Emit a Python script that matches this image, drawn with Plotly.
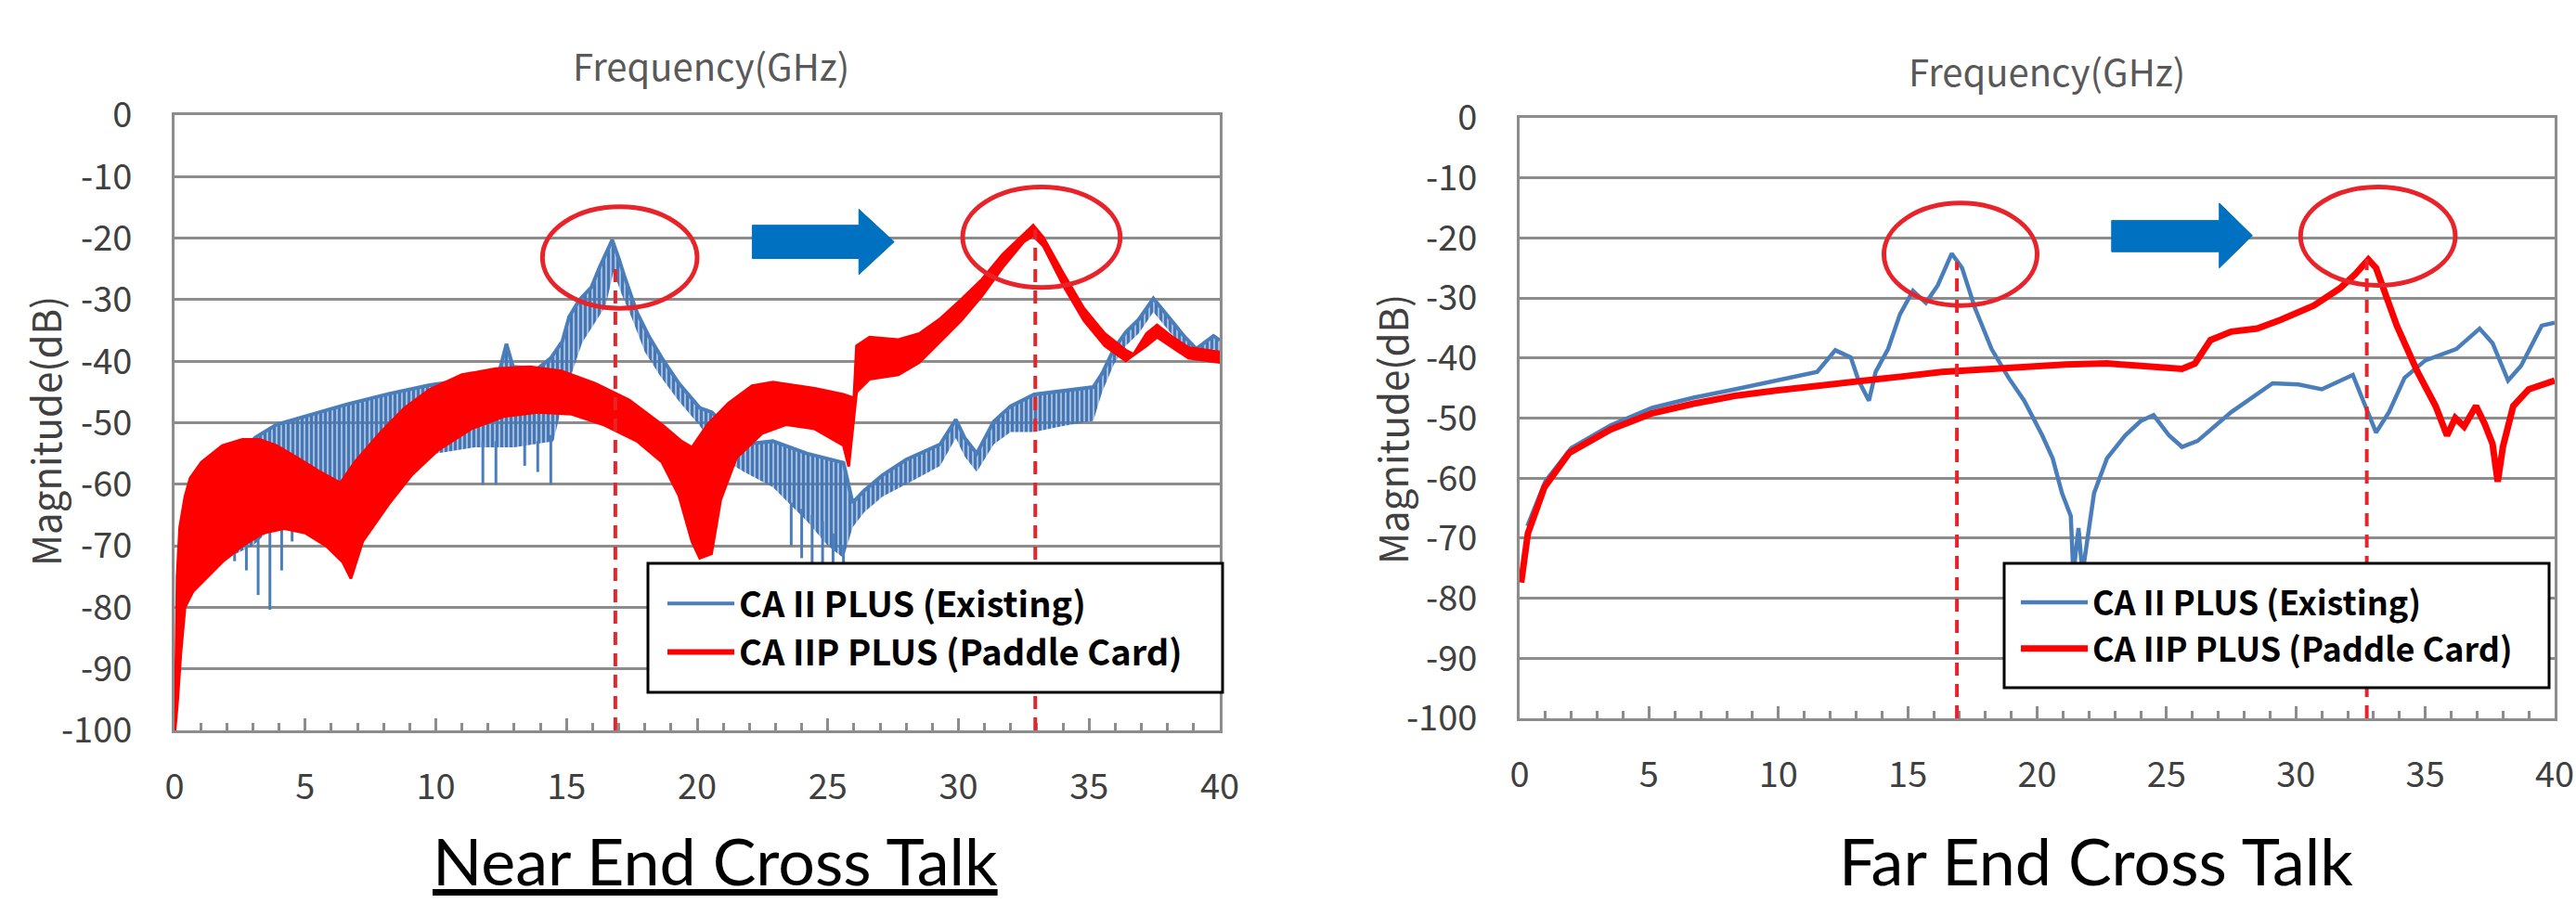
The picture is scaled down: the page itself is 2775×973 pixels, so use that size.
import plotly.graph_objects as go

W, H = 2775, 973

# ---------------- NEAR END CROSS TALK (left panel) ----------------
# Paddle card (red): ripple band, upper and lower envelopes
next_red_up_x = [0.02, 0.1, 0.2, 0.4, 0.6, 1.03, 1.83, 2.6, 3.25, 3.9, 4.7, 5.5, 6.35, 6.9, 7.86, 8.8, 9.76, 11.0,
                 12.3, 13.6, 14.8, 16.1, 17.4, 18.65, 19.4, 19.8, 20.4, 21.2, 22.1, 22.9, 24.5, 25.6, 26.0, 26.1,
                 26.6, 27.7, 28.5, 29.3, 30.1, 30.9, 31.7, 32.5, 32.86, 33.25, 34.05, 34.8, 35.6, 36.4, 36.7, 37.2,
                 37.6, 38.2, 38.8, 40.0]
next_red_up_y = [-100, -75, -67, -62, -59, -56.4, -53.7, -52.7, -52.7, -53.7, -55.7, -57.8, -59.8, -56.4, -51.7,
                 -47.6, -44.6, -42.2, -41.2, -40.9, -41.6, -43.6, -46.3, -50.3, -53, -54, -50.3, -46.8, -44, -43.4,
                 -44.4, -45.4, -46, -37.5, -36.1, -36.5, -35.5, -33.1, -30, -26.7, -22.6, -19.3, -17.9, -19.9, -26,
                 -31.4, -35.5, -38.2, -38.9, -35.5, -34.1, -36.1, -37.8, -38.5]
next_red_lo_x = [0.02, 0.12, 0.24, 0.4, 0.71, 1.19, 1.83, 2.6, 3.4, 4.2, 5.0, 5.8, 6.43, 6.75, 7.2, 8.2, 9.1, 10.1,
                 11.35, 12.6, 13.9, 15.2, 16.4, 17.7, 18.65, 19.3, 19.8, 20.1, 20.55, 20.9, 21.5, 22.5, 23.4, 24.5,
                 25.6, 25.8, 26.1, 26.6, 27.7, 28.5, 29.3, 30.1, 30.9, 31.7, 32.5, 32.86, 33.25, 34.05, 34.8, 35.6,
                 36.4, 37.2, 37.6, 38.2, 38.8, 40.0]
next_red_lo_y = [-100, -95, -87.5, -80, -77.4, -75.3, -72.6, -70, -67.9, -67.2, -67.9, -70, -72.6, -75.3, -69.3,
                 -63.2, -58.4, -54.4, -51, -49, -48.3, -48.6, -50.3, -53, -56.4, -61.8, -69.3, -72, -71.3, -62.5,
                 -55.7, -51.7, -50.3, -51, -53.7, -57.1, -45, -42.9, -42.2, -40.2, -36.8, -33.4, -29.4, -24.7, -20.6,
                 -19.6, -21.3, -28, -33.4, -37.5, -39.9, -37.5, -36.1, -37.8, -39.5, -40.2]

# Existing (blue): ripple band, upper and lower envelopes
next_blue_up_x = [0.3, 1.0, 2.0, 3.1, 3.9, 5.0, 6.6, 8.2, 9.76, 11.35, 12.46, 12.7, 12.95, 13.9, 14.4, 14.84, 15.1,
                  15.5, 15.95, 16.27, 16.75, 17.0, 17.2, 17.7, 18.17, 18.65, 19.3, 20.1, 20.56, 21.8, 22.9, 24.2,
                  25.6, 25.95, 26.4, 27.1, 28.0, 29.3, 29.9, 30.24, 30.7, 31.35, 32.0, 32.9, 34.05, 35.16, 35.5,
                  35.95, 36.4, 36.9, 37.46, 38.0, 38.65, 39.1, 39.76, 40.0]
next_blue_up_y = [-72, -64, -57, -52.4, -50.3, -49, -47, -45.3, -43.9, -42.9, -41.2, -37.2, -40.9, -41.2, -39.5,
                  -36.8, -32.8, -30, -28, -24.7, -20.3, -23.3, -26, -32.1, -36.1, -39.5, -43.6, -47.6, -48.3, -53.5,
                  -53, -55, -56.5, -63, -61, -58.5, -56, -53.5, -49.5, -52.5, -55, -49.8, -47.3, -45.4, -44.8,
                  -44.2, -42, -38, -35.3, -33.2, -29.8, -32.6, -36, -38, -35.9, -36.6]
next_blue_lo_x = [0.3, 1.0, 2.0, 3.0, 4.0, 4.7, 5.5, 7.0, 8.5, 10.0, 11.5, 13.0, 14.5, 14.9, 15.2, 15.6, 16.2, 16.5,
                  16.8, 17.1, 17.5, 18.0, 18.6, 19.3, 20.1, 21.0, 21.8, 22.9, 24.2, 25.0, 25.6, 25.95, 26.4, 27.1,
                  28.0, 29.3, 29.9, 30.24, 30.7, 31.35, 32.0, 32.9, 34.05, 35.16, 35.5, 35.95, 36.4, 36.9, 37.46,
                  38.0, 38.65, 39.1, 39.76, 40.0]
next_blue_lo_y = [-80, -74, -72, -70, -66, -62, -60, -60, -58, -55, -54, -54, -53, -46, -42, -37, -33, -31, -25.5,
                  -29, -33, -38.5, -42.5, -46.5, -50.5, -56, -58, -60.5, -66, -70, -72, -67, -64.5, -62, -60, -57,
                  -52.5, -55.5, -58, -53.5, -51.5, -51.5, -50.5, -49.7, -45, -40.5, -37.5, -35.5, -32, -34.8, -38,
                  -40, -38, -38.6]
# deeper single spikes of the blue comb
next_spike_x = [2.3, 2.75, 3.2, 3.65, 4.1, 4.5, 11.8, 12.3, 13.4, 13.9, 14.4, 23.6, 24.0, 24.4, 24.8, 25.2, 25.6]
next_spike_top = [-70, -69, -68, -67.5, -67, -66, -53, -53, -53, -53, -52, -63, -64, -65, -66, -68, -70]
next_spike_bot = [-72.5, -74, -78, -80.4, -74, -69.3, -60, -60, -57, -58, -60, -70, -72, -76, -76, -76, -76]

# ---------------- FAR END CROSS TALK (right panel) ----------------
fext_red_x = [0.06, 0.32, 0.96, 1.92, 3.52, 5.12, 6.72, 8.32, 9.92, 11.52, 13.12, 14.72, 16.32, 17.92, 19.52, 21.1,
              22.7, 24.3, 25.6, 26.1, 26.7, 27.5, 28.5, 29.4, 30.7, 31.7, 32.3, 32.8, 33.1, 33.9, 34.7, 35.4, 35.84,
              36.16, 36.5, 36.96, 37.3, 37.6, 37.8, 38.0, 38.4, 39.0, 40.0]
fext_red_y = [-77.4, -69.2, -61.5, -55.8, -51.9, -49.2, -47.6, -46.3, -45.4, -44.7, -43.75, -43.1, -42.3, -41.8,
              -41.3, -41.06, -40.9, -41.3, -41.8, -40.9, -37, -35.6, -35.1, -33.65, -31.25, -28.4, -26, -23.6, -25,
              -34.6, -42.3, -48, -52.9, -50, -51.4, -48, -51, -54.3, -60.6, -54.8, -48, -45.2, -43.75]
fext_blue_x = [0.3, 1.0, 2.0, 3.52, 5.12, 6.72, 8.32, 9.92, 11.5, 12.2, 12.8, 13.1, 13.5, 13.76, 14.24, 14.7, 15.2,
               15.7, 16.16, 16.7, 17.1, 17.6, 18.24, 18.9, 19.5, 20.2, 20.6, 20.96, 21.3, 21.4, 21.6, 21.75, 22.0,
               22.2, 22.7, 23.4, 24.0, 24.5, 25.1, 25.6, 26.2, 27.5, 29.1, 30.1, 31.0, 32.2, 32.6, 33.1, 33.6, 34.2,
               35.0, 36.2, 37.1, 37.6, 38.2, 38.7, 39.5, 40.0]
fext_blue_y = [-68, -60.5, -55, -51.2, -48.3, -46.6, -45.2, -43.75, -42.3, -38.7, -39.9, -43.75, -47.1, -42.3,
               -38.5, -32.7, -28.8, -30.8, -27.9, -22.6, -25, -31.7, -38.5, -43.3, -47.1, -52.9, -56.7, -62.5, -66.3,
               -76, -68.3, -76, -68, -62.5, -56.7, -52.9, -50.5, -49.5, -52.9, -54.8, -53.8, -49, -44.2, -44.4,
               -45.2, -42.8, -47.1, -52.4, -49, -43.3, -40.4, -38.5, -35.1, -37.5, -43.75, -41.3, -34.6, -34.1]

# ---------------- annotations (data units) ----------------
series_names = ["CA II PLUS (Existing)", "CA IIP PLUS (Paddle Card)"]
next_peak_x = [16.87, 32.94]
next_peak_top = [-24.7, -18.6]
fext_peak_x = [16.9, 32.74]
fext_peak_top = [-24.0, -23.5]
# ellipses: x0, x1, y_top, y_bottom
next_ellipses = [[14.08, 20.0, -14.9, -31.4], [30.16, 36.19, -11.7, -28.0]]
fext_ellipses = [[14.08, 20.0, -14.2, -31.25], [30.18, 36.16, -11.5, -27.9]]
# block arrow: tail x, head start x, tip x, shaft top, shaft bottom, head top, head bottom
next_arrow = [22.11, 26.19, 27.54, -17.9, -23.3, -15.3, -25.9]
fext_arrow = [22.88, 27.04, 28.32, -17.1, -22.3, -14.2, -25.0]

x_tick_vals = [0, 5, 10, 15, 20, 25, 30, 35, 40]
x_tick_text = ["0", "5", "10", "15", "20", "25", "30", "35", "40"]
y_tick_vals = [0, -10, -20, -30, -40, -50, -60, -70, -80, -90, -100]
y_tick_text = ["0", "-10", "-20", "-30", "-40", "-50", "-60", "-70", "-80", "-90", "-100"]

BLUE = "#4a7ebb"
RED = "#ff0000"
MARK_RED = "#e8242a"
ARROW_BLUE = "#0070c0"
GRID = "#8c8c8c"
TICKFONT = "Noto Sans CJK KR"

fig = go.Figure()

# --- left panel traces ---
fig.add_trace(go.Scatter(
    x=next_blue_up_x + next_blue_lo_x[::-1], y=next_blue_up_y + next_blue_lo_y[::-1],
    fill="toself", mode="none", fillcolor="rgba(0,0,0,0)",
    fillpattern=dict(shape="|", size=5, solidity=0.8, fgcolor="#4576b5", bgcolor="rgba(0,0,0,0)"),
    showlegend=False, hoverinfo="skip", xaxis="x", yaxis="y"))
sx, sy = [], []
for xv, t, b in zip(next_spike_x, next_spike_top, next_spike_bot):
    sx += [xv, xv, None]
    sy += [t, b, None]
fig.add_trace(go.Scatter(x=sx, y=sy, mode="lines", line=dict(color=BLUE, width=3),
                         showlegend=False, hoverinfo="skip", xaxis="x", yaxis="y"))
fig.add_trace(go.Scatter(x=next_blue_up_x, y=next_blue_up_y, mode="lines", line=dict(color=BLUE, width=4),
                         name=series_names[0], legend="legend", xaxis="x", yaxis="y"))
fig.add_trace(go.Scatter(
    x=next_red_up_x + next_red_lo_x[::-1], y=next_red_up_y + next_red_lo_y[::-1],
    fill="toself", mode="lines", fillcolor=RED, line=dict(color=RED, width=3),
    showlegend=False, hoverinfo="skip", xaxis="x", yaxis="y"))
# red legend entry drawn as a line sample
fig.add_trace(go.Scatter(x=[None], y=[None], mode="lines", line=dict(color=RED, width=6),
                         name=series_names[1], legend="legend", xaxis="x", yaxis="y"))

# --- right panel traces ---
fig.add_trace(go.Scatter(x=fext_blue_x, y=fext_blue_y, mode="lines", line=dict(color=BLUE, width=4.5),
                         name=series_names[0], legend="legend2", xaxis="x2", yaxis="y2"))
fig.add_trace(go.Scatter(x=fext_red_x, y=fext_red_y, mode="lines", line=dict(color=RED, width=7),
                         name=series_names[1], legend="legend2", xaxis="x2", yaxis="y2"))

# --- shapes ---
shapes = []
def add_marks(xref, yref, peaks_x, peaks_top, ellipses, arrow):
    for px, pt in zip(peaks_x, peaks_top):
        shapes.append(dict(type="line", xref=xref, yref=yref, x0=px, x1=px, y0=-100, y1=pt,
                           line=dict(color=MARK_RED, width=4, dash="14px,9px")))
    for e in ellipses:
        shapes.append(dict(type="circle", xref=xref, yref=yref, x0=e[0], x1=e[1], y0=e[2], y1=e[3],
                           line=dict(color=MARK_RED, width=5)))
    t, hs, tip, st, sb, ht, hb = arrow
    mid = (ht + hb) / 2
    path = (f"M{t},{st} L{hs},{st} L{hs},{ht} L{tip},{mid} L{hs},{hb} L{hs},{sb} L{t},{sb} Z")
    shapes.append(dict(type="path", xref=xref, yref=yref, path=path, fillcolor=ARROW_BLUE,
                       line=dict(color=ARROW_BLUE, width=1)))

add_marks("x", "y", next_peak_x, next_peak_top, next_ellipses, next_arrow)
add_marks("x2", "y2", fext_peak_x, fext_peak_top, fext_ellipses, fext_arrow)

# legend frames (white boxes with black border, legend entries drawn on top)
for (bx0, bx1, by0, by1) in [(698, 1317, 607, 746), (2159, 2746, 607, 741)]:
    shapes.append(dict(type="rect", xref="paper", yref="paper", x0=bx0 / W, x1=bx1 / W,
                       y0=1 - by1 / H, y1=1 - by0 / H, fillcolor="white",
                       line=dict(color="black", width=3), layer="above"))

def xaxis(domain, anchor):
    return dict(domain=domain, anchor=anchor, range=[0, 40], tickmode="array", tickvals=x_tick_vals,
                ticktext=x_tick_text, ticks="inside", ticklen=13, tickwidth=2.5, tickcolor=GRID,
                minor=dict(tickmode="linear", tick0=0, dtick=1, ticks="inside", ticklen=8, tickwidth=2.5,
                           tickcolor=GRID, showgrid=False),
                showline=True, linecolor=GRID, linewidth=3, mirror=True, showgrid=False, zeroline=False,
                tickfont=dict(family=TICKFONT, size=38, color="#404040"), ticklabelstandoff=25,
                automargin=False, fixedrange=True)

def yaxis(domain, anchor):
    return dict(domain=domain, anchor=anchor, range=[-100, 0], tickmode="array", tickvals=y_tick_vals,
                ticktext=y_tick_text, ticks="", showline=True, linecolor=GRID, linewidth=3, mirror=True,
                showgrid=True, gridcolor=GRID, gridwidth=3, zeroline=False,
                tickfont=dict(family=TICKFONT, size=38, color="#404040"), ticklabelstandoff=35,
                automargin=False, fixedrange=True)

legend_common = dict(xanchor="left", yanchor="top", bgcolor="rgba(0,0,0,0)", borderwidth=0,
                     traceorder="normal", itemwidth=72)

fig.update_layout(
    template="none",
    width=W, height=H, margin=dict(l=0, r=0, t=0, b=0, pad=0, autoexpand=False),
    paper_bgcolor="white", plot_bgcolor="white",
    xaxis=xaxis([188 / W, 1314 / W], "y"),
    yaxis=yaxis([1 - 787 / H, 1 - 124 / H], "x"),
    xaxis2=xaxis([1637 / W, 2752 / W], "y2"),
    yaxis2=yaxis([1 - 774 / H, 1 - 127 / H], "x2"),
    legend=dict(legend_common, x=714 / W, y=1 - 619 / H,
                font=dict(family=TICKFONT, size=38, color="black", weight="bold")),
    legend2=dict(legend_common, x=2172 / W, y=1 - 619 / H,
                 font=dict(family=TICKFONT, size=36, color="black", weight="bold")),
    shapes=shapes,
    annotations=[
        dict(text="Frequency(GHz)", xref="paper", yref="paper", x=766 / W, y=1 - 70 / H, showarrow=False,
             xanchor="center", yanchor="middle", font=dict(family=TICKFONT, size=40, color="#595959")),
        dict(text="Frequency(GHz)", xref="paper", yref="paper", x=2205 / W, y=1 - 76 / H, showarrow=False,
             xanchor="center", yanchor="middle", font=dict(family=TICKFONT, size=40, color="#595959")),
        dict(text="Magnitude(dB)", xref="paper", yref="paper", x=47 / W, y=1 - 465 / H, showarrow=False,
             xanchor="center", yanchor="middle", textangle=-90,
             font=dict(family=TICKFONT, size=42, color="#404040")),
        dict(text="Magnitude(dB)", xref="paper", yref="paper", x=1498 / W, y=1 - 463 / H, showarrow=False,
             xanchor="center", yanchor="middle", textangle=-90,
             font=dict(family=TICKFONT, size=42, color="#404040")),
        dict(text="<u>Near End Cross Talk</u>", xref="paper", yref="paper", x=770 / W, y=1 - 927 / H,
             showarrow=False, xanchor="center", yanchor="middle",
             font=dict(family="Lato", size=70, color="black")),
        dict(text="Far End Cross Talk", xref="paper", yref="paper", x=2258 / W, y=1 - 927 / H,
             showarrow=False, xanchor="center", yanchor="middle",
             font=dict(family="Lato", size=70, color="black")),
    ],
)

fig.write_html("out.html", config={"displayModeBar": False},
               post_script="document.body.style.margin='0px';")
